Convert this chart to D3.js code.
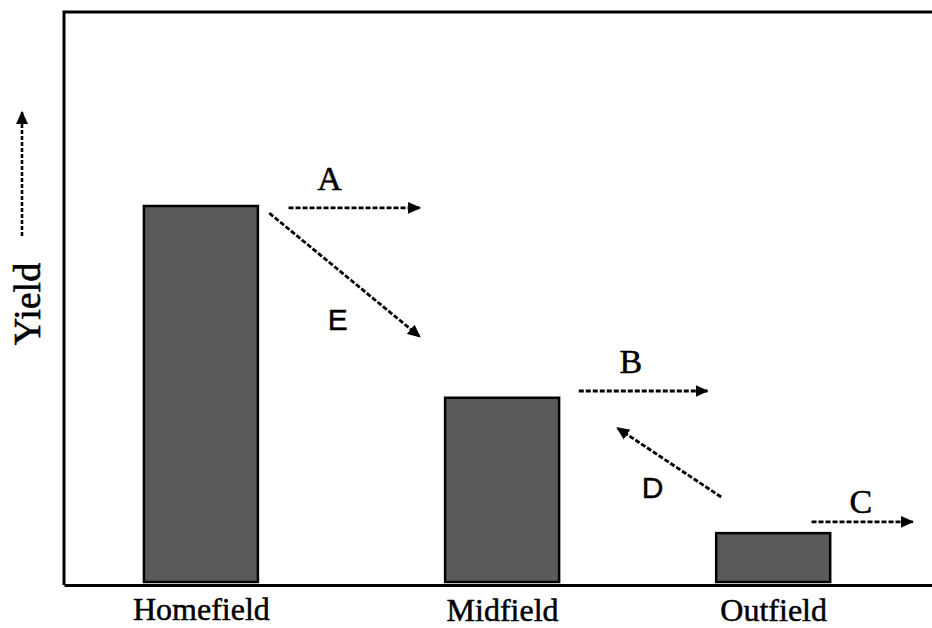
<!DOCTYPE html>
<html>
<head>
<meta charset="utf-8">
<script src="https://cdn.jsdelivr.net/npm/d3@7"></script>
<style>
  body { margin: 0; background: #fff; }
  svg { display: block; }
</style>
</head>
<body>
<script>
const w = 932;
const h = 628;

// data
const fields = ["Homefield", "Midfield", "Outfield"];
const fieldDistance = [1, 2.1, 3.09];
const yieldValues = [100, 49, 13];

// flows between fields (distance, yield)
const flowNames = ["A", "E", "B", "D", "C"];
const flowFrom = [[1.32, 99.5], [1.25, 98.1], [2.38, 50.8], [2.90, 22.6], [3.23, 16.0]];
const flowTo = [[1.80, 99.5], [1.80, 65.2], [2.85, 50.8], [2.52, 41.0], [3.60, 16.0]];
const flowLabelAt = [[1.47, 104.3], [1.50, 67.0], [2.57, 55.6], [2.65, 22.3], [3.41, 18.4]];
const serifLabels = ["A", "B", "C"];

const frameLeft = 64, frameTop = 12, frameBottom = 585;
const serif = "'Liberation Serif', 'Times New Roman', serif";
const sans = "'Liberation Sans', Arial, sans-serif";

const x = d3.scaleLinear()
  .domain([0.5, 3.67])
  .range([frameLeft, w]);

const y = d3.scaleLinear()
  .domain([0, 100])
  .range([582, 206]);

const barW = 114;

const svg = d3.select("body")
  .append("svg")
  .attr("width", w)
  .attr("height", h);

const defs = svg.append("defs");
defs.append("marker")
  .attr("id", "head")
  .attr("viewBox", "0 0 12 12")
  .attr("refX", 11)
  .attr("refY", 6)
  .attr("markerWidth", 13)
  .attr("markerHeight", 13)
  .attr("markerUnits", "userSpaceOnUse")
  .attr("orient", "auto")
  .append("path")
  .attr("d", "M0,0.5 L12,6 L0,11.5 Z")
  .attr("fill", "#000");

// bars
svg.selectAll("rect.bar")
  .data(fields)
  .enter()
  .append("rect")
  .attr("class", "bar")
  .attr("x", (d, i) => x(fieldDistance[i]) - barW / 2)
  .attr("y", (d, i) => y(yieldValues[i]))
  .attr("width", barW)
  .attr("height", (d, i) => y(0) - y(yieldValues[i]))
  .attr("fill", "#5a5a5a")
  .attr("stroke", "#000")
  .attr("stroke-width", 2.5);

// frame: top and left
svg.append("path")
  .attr("d", "M" + w + "," + frameTop + " L" + frameLeft + "," + frameTop + " L" + frameLeft + "," + frameBottom)
  .attr("fill", "none")
  .attr("stroke", "#000")
  .attr("stroke-width", 3);

// bottom axis
const xAxis = d3.axisBottom(x)
  .tickValues(fieldDistance)
  .tickSize(0)
  .tickPadding(12)
  .tickFormat((d, i) => fields[i]);

const gx = svg.append("g")
  .attr("transform", "translate(0," + frameBottom + ")")
  .call(xAxis);
gx.select(".domain").attr("stroke", "#000").attr("stroke-width", 3);
gx.selectAll("text")
  .attr("font-family", serif)
  .attr("font-size", 32)
  .attr("fill", "#000")
  .attr("stroke", "#000")
  .attr("stroke-width", 0.5)
  .attr("dy", (d, i) => i === 0 ? "0.71em" : "0.76em");

// y label with arrow
svg.append("text")
  .attr("transform", "translate(40,304) rotate(-90)")
  .attr("text-anchor", "middle")
  .attr("font-family", serif)
  .attr("font-size", 38)
  .attr("stroke", "#000")
  .attr("stroke-width", 0.6)
  .text("Yield");

svg.append("line")
  .attr("x1", 22).attr("y1", 236)
  .attr("x2", 22).attr("y2", 112)
  .attr("stroke", "#000")
  .attr("stroke-width", 2.6)
  .attr("stroke-dasharray", "4,2")
  .attr("marker-end", "url(#head)");

// flow arrows
svg.selectAll("line.flow")
  .data(flowNames)
  .enter()
  .append("line")
  .attr("class", "flow")
  .attr("x1", (d, i) => x(flowFrom[i][0]))
  .attr("y1", (d, i) => y(flowFrom[i][1]))
  .attr("x2", (d, i) => x(flowTo[i][0]))
  .attr("y2", (d, i) => y(flowTo[i][1]))
  .attr("stroke", "#000")
  .attr("stroke-width", 2.8)
  .attr("stroke-dasharray", "5,2")
  .attr("marker-end", "url(#head)");

svg.selectAll("text.flow")
  .data(flowNames)
  .enter()
  .append("text")
  .attr("class", "flow")
  .attr("x", (d, i) => x(flowLabelAt[i][0]))
  .attr("y", (d, i) => y(flowLabelAt[i][1]))
  .attr("text-anchor", "middle")
  .attr("font-family", d => serifLabels.includes(d) ? serif : sans)
  .attr("font-size", d => serifLabels.includes(d) ? 34 : 30)
  .attr("stroke", "#000")
  .attr("stroke-width", d => serifLabels.includes(d) ? 0.5 : 0.4)
  .text(d => d);
</script>
</body>
</html>
